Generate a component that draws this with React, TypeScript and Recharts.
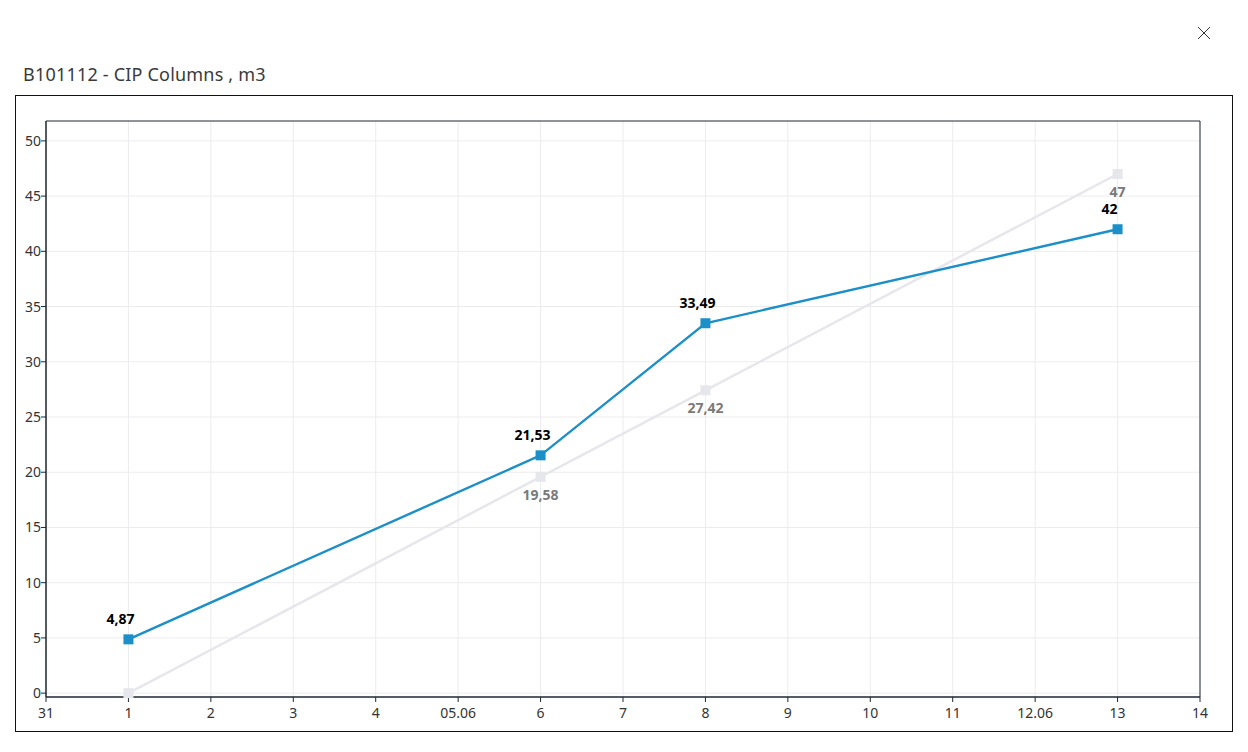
import React from 'react';
import { LineChart, Line, XAxis, YAxis, CartesianGrid, ReferenceArea } from 'recharts';

const xTickLabels = ['31', '1', '2', '3', '4', '05.06', '6', '7', '8', '9', '10', '11', '12.06', '13', '14'];
const xTicks = xTickLabels.map((_l, i) => i);
const yTicks = [0, 5, 10, 15, 20, 25, 30, 35, 40, 45, 50];

const pointDays = [1, 6, 8, 13];
const currentValues = [4.87, 21.53, 33.49, 42];
const previousValues = [0, 19.58, 27.42, 47];

const data = pointDays.map((day, i) => ({ day, current: currentValues[i], previous: previousValues[i] }));

const BLUE = '#1b8fc8';
const GRAY = '#e6e7ec';
const AXIS = '#1c2833';
const FONT = '"Noto Sans", "Open Sans", sans-serif';

const fmt = (v: number) => String(v).replace('.', ',');

const squareDot = (fill: string) => (props: any) => {
    const { cx, cy, index } = props;
    if (cx == null || cy == null) return <g key={`d-${index}`} />;
    return <rect key={`d-${index}`} x={cx - 5} y={cy - 5} width={10} height={10} fill={fill} />;
};

const topLabel = (props: any) => {
    const { x, y, value, index } = props;
    return (
        <text key={`lt-${index}`} x={x - 8} y={y - 15} textAnchor='middle' fontFamily={FONT} fontSize={14} fontWeight={700} fill='#000'>
            {fmt(value)}
        </text>
    );
};

const bottomLabel = (props: any) => {
    const { x, y, value, index } = props;
    if (!value) return <g key={`lb-${index}`} />;
    return (
        <text key={`lb-${index}`} x={x} y={y + 23} textAnchor='middle' fontFamily={FONT} fontSize={14} fontWeight={700} fill='#7a7a7a'>
            {fmt(value)}
        </text>
    );
};

export default function App() {
    return (
        <div style={{ position: 'relative', width: 1248, height: 752, margin: -8, overflow: 'hidden', background: '#fff', fontFamily: FONT }}>
            <svg style={{ position: 'absolute', left: 1197, top: 26 }} width={14} height={14}>
                <line x1={1} y1={1} x2={13} y2={13} stroke='#333' strokeWidth={1} />
                <line x1={13} y1={1} x2={1} y2={13} stroke='#333' strokeWidth={1} />
            </svg>
            <div style={{ position: 'absolute', left: 23, top: 62, fontSize: 18, color: '#3a3a3a', whiteSpace: 'nowrap', letterSpacing: 0.2 }}>
                B101112 - CIP Columns , m3
            </div>
            <div style={{ position: 'absolute', left: 15, top: 95, width: 1218, height: 637, border: '1px solid #111', boxSizing: 'border-box' }} />
            <div style={{ position: 'absolute', left: 0, top: 747, width: 1248, height: 1, background: '#e8e8e8' }} />
            <div style={{ position: 'absolute', left: 330, top: 748, width: 302, height: 4, background: '#8a8a8a' }} />
            <div style={{ position: 'absolute', left: 0, top: 0 }}>
                <LineChart width={1248} height={752} data={data} margin={{ top: 121, right: 48, bottom: 25, left: 6 }}>
                    <CartesianGrid stroke='#ececef' strokeWidth={1} horizontalValues={yTicks} verticalValues={xTicks} />
                    <XAxis
                        dataKey='day'
                        type='number'
                        domain={[0, 14]}
                        ticks={xTicks}
                        tickFormatter={(v: number) => xTickLabels[v]}
                        interval={0}
                        height={30}
                        stroke={AXIS}
                        tickSize={5}
                        tickMargin={6}
                        tick={{ fill: '#333', fontSize: 14, fontFamily: FONT }}
                    />
                    <YAxis
                        type='number'
                        domain={[-0.35, 51.8]}
                        ticks={yTicks}
                        interval={0}
                        width={40}
                        stroke={AXIS}
                        tickSize={5}
                        tickMargin={0}
                        tick={{ fill: '#333', fontSize: 14, fontFamily: FONT }}
                    />
                    <ReferenceArea x1={0} x2={14} y1={-0.35} y2={51.8} fill='none' stroke={AXIS} strokeWidth={1} ifOverflow='visible' />
                    <Line
                        dataKey='previous'
                        stroke={GRAY}
                        strokeWidth={2.5}
                        dot={squareDot(GRAY)}
                        activeDot={false}
                        label={bottomLabel}
                        isAnimationActive={false}
                    />
                    <Line
                        dataKey='current'
                        stroke={BLUE}
                        strokeWidth={2.4}
                        dot={squareDot(BLUE)}
                        activeDot={false}
                        label={topLabel}
                        isAnimationActive={false}
                    />
                </LineChart>
            </div>
        </div>
    );
}
